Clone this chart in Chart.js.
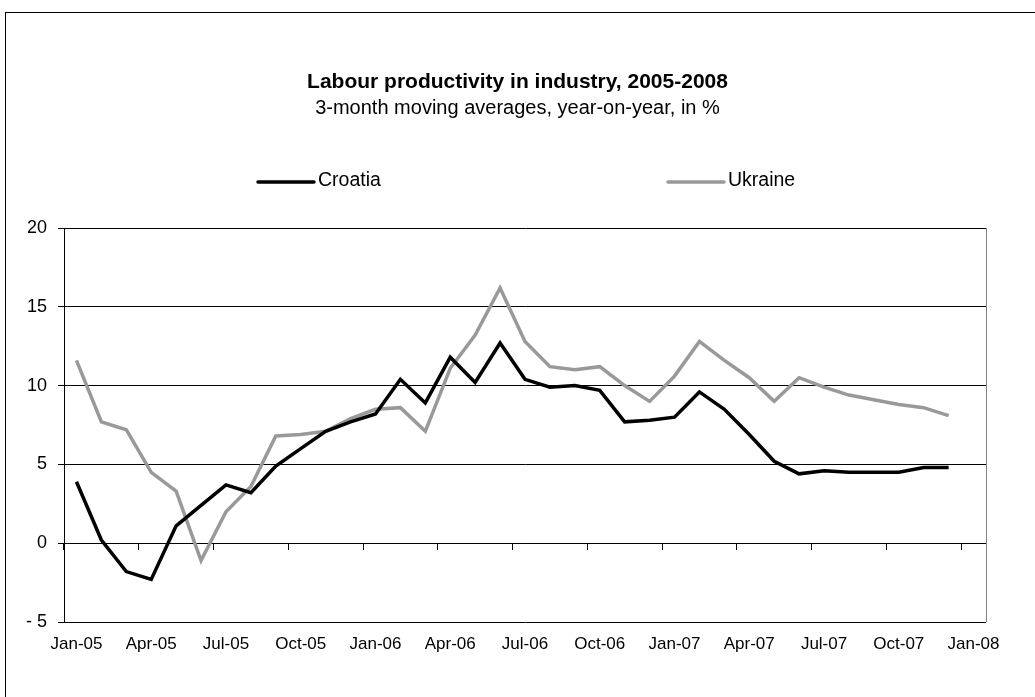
<!DOCTYPE html>
<html>
<head>
<meta charset="utf-8">
<script src="https://cdn.jsdelivr.net/npm/chart.js@4.4.1/dist/chart.umd.min.js"></script>
<style>
  html, body { margin: 0; padding: 0; background: #fff; }
  #wrap { width: 1035px; height: 697px; position: relative; }
</style>
</head>
<body>
<div id="wrap"><canvas id="c"></canvas></div>
<script>
const months = ['Jan-05','Feb-05','Mar-05','Apr-05','May-05','Jun-05','Jul-05','Aug-05','Sep-05','Oct-05','Nov-05','Dec-05',
  'Jan-06','Feb-06','Mar-06','Apr-06','May-06','Jun-06','Jul-06','Aug-06','Sep-06','Oct-06','Nov-06','Dec-06',
  'Jan-07','Feb-07','Mar-07','Apr-07','May-07','Jun-07','Jul-07','Aug-07','Sep-07','Oct-07','Nov-07','Dec-07',
  'Jan-08'];
const croatia = [3.9, 0.2, -1.8, -2.3, 1.1, 2.4, 3.7, 3.2, 4.9, 6.0, 7.1, 7.7,
  8.2, 10.4, 8.9, 11.8, 10.2, 12.7, 10.4, 9.9, 10.0, 9.7, 7.7, 7.8,
  8.0, 9.6, 8.5, 6.9, 5.2, 4.4, 4.6, 4.5, 4.5, 4.5, 4.8, 4.8, null];
const ukraine = [11.6, 7.7, 7.2, 4.5, 3.3, -1.1, 2.0, 3.6, 6.8, 6.9, 7.1, 7.9,
  8.5, 8.6, 7.1, 11.1, 13.2, 16.2, 12.8, 11.2, 11.0, 11.2, 10.0, 9.0,
  10.6, 12.8, 11.6, 10.5, 9.0, 10.5, 9.9, 9.4, 9.1, 8.8, 8.6, 8.1, null];
const yTicks = [-5, 0, 5, 10, 15, 20];
const titleText = 'Labour productivity in industry, 2005-2008';
const subtitleText = '3-month moving averages, year-on-year, in %';
const seriesNames = ['Croatia', 'Ukraine'];
const seriesColors = ['#000000', '#999999'];

const FONT = '"Liberation Sans", Arial, sans-serif';

const framePlugin = {
  id: 'frame',
  beforeDraw(chart) {
    const ctx = chart.ctx;
    ctx.save();
    ctx.fillStyle = '#ffffff';
    ctx.fillRect(0, 0, chart.width, chart.height);
    ctx.strokeStyle = '#000000';
    ctx.lineWidth = 1;
    ctx.strokeRect(5.5, 12.5, chart.width + 20, chart.height + 20);
    ctx.restore();
  },
  afterDatasetsDraw(chart) {
    const ctx = chart.ctx, a = chart.chartArea;
    ctx.save();
    ctx.strokeStyle = '#808080';
    ctx.lineWidth = 1;
    ctx.beginPath();
    ctx.moveTo(Math.round(a.right) + 0.5, a.top);
    ctx.lineTo(Math.round(a.right) + 0.5, a.bottom);
    ctx.stroke();
    ctx.restore();
  }
};

// legend with widely spaced items, drawn from dataset properties
const spreadLegend = {
  id: 'spreadLegend',
  afterDraw(chart) {
    const ctx = chart.ctx;
    const starts = [258, 668];
    const y = 181;
    ctx.save();
    ctx.font = '19.5px ' + FONT;
    ctx.textBaseline = 'middle';
    ctx.textAlign = 'left';
    chart.data.datasets.forEach((ds, i) => {
      const x0 = starts[i];
      ctx.strokeStyle = ds.borderColor;
      ctx.lineWidth = ds.borderWidth;
      ctx.lineCap = 'round';
      ctx.beginPath();
      ctx.moveTo(x0, y + 1);
      ctx.lineTo(x0 + 56, y + 1);
      ctx.stroke();
      ctx.fillStyle = '#000000';
      ctx.fillText(ds.label, x0 + 60, y);
    });
    ctx.restore();
  }
};

new Chart(document.getElementById('c'), {
  type: 'line',
  data: {
    labels: months,
    datasets: [
      { label: seriesNames[0], data: croatia, borderColor: seriesColors[0], backgroundColor: seriesColors[0],
        borderWidth: 3.5, pointRadius: 0, tension: 0, spanGaps: false },
      { label: seriesNames[1], data: ukraine, borderColor: seriesColors[1], backgroundColor: seriesColors[1],
        borderWidth: 3.5, pointRadius: 0, tension: 0, spanGaps: false }
    ]
  },
  options: {
    responsive: true,
    maintainAspectRatio: false,
    animation: false,
    layout: { padding: { top: 0, left: 0, right: 0, bottom: 0 } },
    plugins: {
      legend: { display: false },
      tooltip: { enabled: false },
      title: { display: true, text: titleText, color: '#000', font: { family: FONT, size: 21, weight: 'bold' },
        padding: { top: 69.4, bottom: 1.4 } },
      subtitle: { display: true, text: subtitleText, color: '#000', font: { family: FONT, size: 20 },
        padding: { top: 0, bottom: 108 } }
    },
    scales: {
      x: {
        type: 'category',
        offset: true,
        position: 'bottom',
        grid: { display: false, drawTicks: false },
        border: { display: false },
        ticks: {
          autoSkip: false, maxRotation: 0, minRotation: 0, padding: 12,
          color: '#000', font: { family: FONT, size: 17 },
          callback: function(v, i) { return i % 3 === 0 ? this.getLabelForValue(v) : ''; }
        },
        afterFit: s => { s.height = 75; }
      },
      x2: {
        type: 'category',
        offset: true,
        position: { y: 0 },
        grid: {
          offset: true, drawOnChartArea: false, drawTicks: true, tickLength: 6, lineWidth: 1,
          color: c => (c.index % 3 === 0 ? '#000000' : 'rgba(0,0,0,0)')
        },
        border: { display: true, color: '#000000', width: 1 },
        ticks: { display: false, autoSkip: false }
      },
      y: {
        min: -5, max: 20,
        afterBuildTicks: s => { s.ticks = yTicks.map(v => ({ value: v })); },
        grid: { color: '#000000', lineWidth: 1, drawTicks: true, tickLength: 6 },
        border: { display: true, color: '#000000', width: 1 },
        ticks: {
          padding: 11, color: '#000', font: { family: FONT, size: 18 },
          callback: v => (v < 0 ? '- ' + Math.abs(v) : String(v))
        },
        afterFit: s => { s.width = 64; }
      },
      yRight: {
        type: 'linear',
        position: 'right',
        min: -5, max: 20,
        grid: { display: false, drawTicks: false },
        border: { display: false },
        ticks: { display: false },
        afterFit: s => { s.width = 49; }
      }
    }
  },
  plugins: [framePlugin, spreadLegend]
});
</script>
</body>
</html>
